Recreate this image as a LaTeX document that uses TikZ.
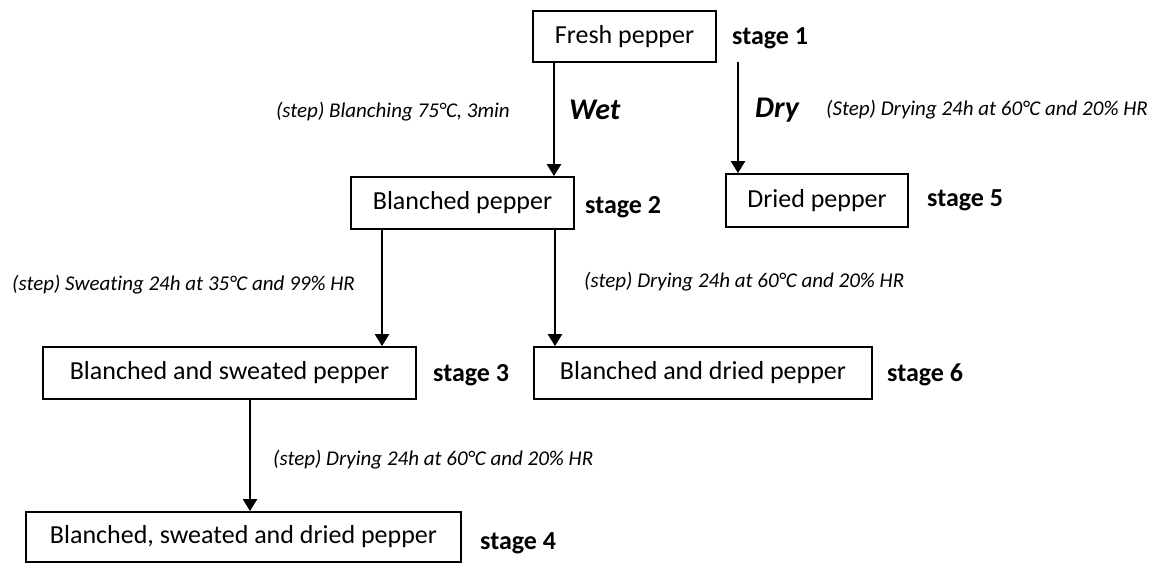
\documentclass[tikz,border=0pt]{standalone}
\usepackage{fontspec}
\setmainfont{Carlito}[Ligatures={NoCommon}]
\usetikzlibrary{arrows.meta}
\tikzset{
  box/.style={draw=black, line width=1.8pt, rectangle, inner sep=0pt, font=\fontsize{26}{30}\selectfont},
  stagelbl/.style={anchor=west, inner sep=0pt, font=\fontsize{26}{30}\selectfont\bfseries},
  steplbl/.style={inner sep=0pt, font=\fontsize{21}{25}\selectfont\itshape},
  waylbl/.style={anchor=west, inner sep=0pt, font=\fontsize{30}{34}\selectfont\bfseries\itshape},
  arr/.style={line width=2.5pt, -{Triangle[width=14pt,length=12pt]}}
}
\begin{document}
\begin{tikzpicture}[x=1pt,y=-1pt]
\useasboundingbox (0,0) rectangle (1160,563);
% boxes
\node[box, minimum width=183pt, minimum height=51pt] (b1) at (624.5,36.5) {Fresh pepper};
\node[box, minimum width=223pt, minimum height=52pt] (b2) at (462.5,203) {Blanched pepper};
\node[box, minimum width=182pt, minimum height=53pt] (b5) at (817,200.5) {Dried pepper};
\node[box, minimum width=373pt, minimum height=52pt] (b3) at (229.5,373) {Blanched and sweated pepper};
\node[box, minimum width=338pt, minimum height=52pt] (b6) at (703,373) {Blanched and dried pepper};
\node[box, minimum width=435pt, minimum height=50pt] (b4) at (243.5,537) {Blanched, sweated and dried pepper};
% stage labels
\node[stagelbl] (s1) at (732,38) {stage 1};
\node[stagelbl] (s2) at (585,207) {stage 2};
\node[stagelbl] (s5) at (927,200) {stage 5};
\node[stagelbl] (s3) at (433,375) {stage 3};
\node[stagelbl] (s6) at (887,375) {stage 6};
\node[stagelbl] (s4) at (480,543) {stage 4};
% connector x positions
\coordinate (xw) at (554,0);
\coordinate (xd) at (738,62);
\coordinate (xa) at (382,0);
\coordinate (xb) at (555,0);
\coordinate (xc) at (250,0);
% connectors
\draw[arr] (xw |- b1.south) -- (xw |- b2.north);
\draw[arr] (xd) -- (xd |- b5.north);
\draw[arr] (xa |- b2.south) -- (xa |- b3.north);
\draw[arr] (xb |- b2.south) -- (xb |- b6.north);
\draw[arr] (xc |- b3.south) -- (xc |- b4.north);
% step labels
\node[steplbl, anchor=east] (l1) at (510,112) {(step) Blanching 75°C, 3min};
\node[waylbl] (wet) at (569,110) {Wet};
\node[waylbl] (dry) at (755,110) {Dry};
\node[steplbl, anchor=west] (l2) at (826,110) {(Step) Drying 24h at 60°C and 20\% HR};
\node[steplbl, anchor=west] (l3) at (12,285) {(step) Sweating 24h at 35°C and 99\% HR};
\node[steplbl, anchor=west] (l4) at (584,282) {(step) Drying 24h at 60°C and 20\% HR};
\node[steplbl, anchor=west] (l5) at (273,460) {(step) Drying 24h at 60°C and 20\% HR};
\end{tikzpicture}
\end{document}
